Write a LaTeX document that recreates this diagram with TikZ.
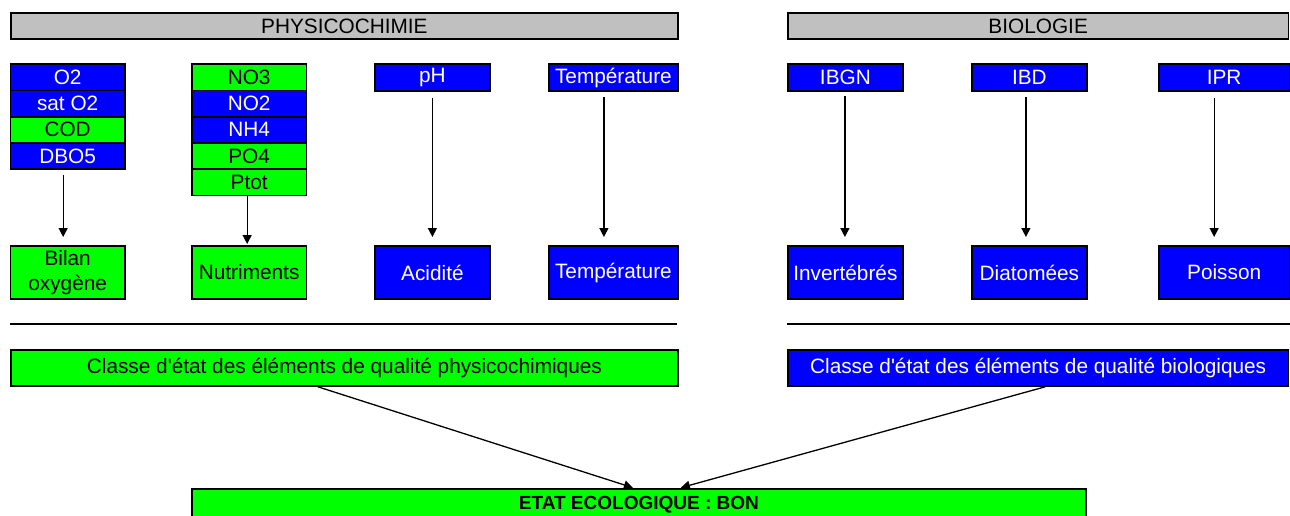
\documentclass[tikz,border=0pt]{standalone}
\usepackage{fontspec}
\setmainfont{Liberation Sans}[Ligatures=TeXOff]
\usetikzlibrary{arrows.meta}
\definecolor{bblue}{HTML}{0000FF}
\definecolor{bgreen}{HTML}{00FF00}
\definecolor{hgrey}{HTML}{C0C0C0}
\newcommand{\fsz}{\fontsize{20.8}{24.5}\selectfont}
\tikzset{
  box/.style={draw, line width=1.8pt, inner sep=0pt, anchor=north west, align=center, font=\fsz},
  bl/.style={box, fill=bblue, text=white},
  gr/.style={box, fill=bgreen, text=black},
  hdr/.style={box, fill=hgrey, text=black},
  arr/.style={-{Triangle[length=9pt,width=9pt]}, line width=1.3pt},
  sep/.style={line width=1.8pt}
}
\begin{document}
\begin{tikzpicture}[x=1pt,y=-1pt]
\useasboundingbox (0,0) rectangle (1290,516);
\clip (0,0) rectangle (1290,516);
% headers
\node[hdr, minimum width=667pt, minimum height=26.3pt] (physh) at (10,12) {PHYSICOCHIMIE};
\node[hdr, minimum width=500.5pt, minimum height=26.3pt] (bioh) at (787,12) {BIOLOGIE};
% O2 stack
\node[bl, minimum width=114.5pt, minimum height=26.25pt] (o2) at (9.5,63.3) {O2};
\node[bl, minimum width=114.5pt, minimum height=26.25pt] (sato2) at (9.5,89.55) {sat O2};
\node[gr, minimum width=114.5pt, minimum height=26.25pt] (cod) at (9.5,115.8) {COD};
\node[bl, minimum width=114.5pt, minimum height=26.25pt] (dbo) at (9.5,142.05) {DBO5};
% N/P stack
\node[gr, minimum width=114.5pt, minimum height=26.25pt] (no3) at (191,63.3) {NO3};
\node[bl, minimum width=114.5pt, minimum height=26.25pt] (no2) at (191,89.55) {NO2};
\node[bl, minimum width=114.5pt, minimum height=26.25pt] (nh4) at (191,115.8) {NH4};
\node[gr, minimum width=114.5pt, minimum height=26.25pt] (po4) at (191,142.05) {PO4};
\node[gr, minimum width=114.5pt, minimum height=26.25pt] (ptot) at (191,168.3) {Ptot};
% single parameter boxes
\node[bl, minimum width=115pt, minimum height=27pt] (ph) at (374,63.3) {pH};
\node[bl, minimum width=129pt, minimum height=27pt] (tin) at (548,63.3) {Température};
\node[bl, minimum width=115pt, minimum height=27pt] (ibgn) at (787,63.3) {IBGN};
\node[bl, minimum width=115pt, minimum height=27pt] (ibd) at (971,63.3) {IBD};
\node[bl, minimum width=130.5pt, minimum height=27pt] (ipr) at (1158,63.3) {IPR};
% element boxes
\node[gr, minimum width=114.5pt, minimum height=53.3pt] (bilan) at (9.5,245) {Bilan\\oxygène};
\node[gr, minimum width=114.5pt, minimum height=53.3pt] (nutr) at (191,245) {Nutriments};
\node[bl, minimum width=115pt, minimum height=53.3pt] (acid) at (374,245) {Acidité};
\node[bl, minimum width=129pt, minimum height=53.3pt] (tout) at (548,245) {Température};
\node[bl, minimum width=115pt, minimum height=53.3pt] (inv) at (787,245) {Invertébrés};
\node[bl, minimum width=115pt, minimum height=53.3pt] (diat) at (971,245) {Diatomées};
\node[bl, minimum width=130.5pt, minimum height=53.3pt] (pois) at (1158,245) {Poisson};
% separator lines
\coordinate (l1a) at (10,324); \coordinate (l1b) at (677,324);
\coordinate (l2a) at (787,324); \coordinate (l2b) at (1290,324);
\draw[sep] (l1a) -- (l1b);
\draw[sep] (l2a) -- (l2b);
% class boxes
\node[gr, minimum width=667pt, minimum height=36pt] (cphys) at (10,349) {Classe d'état des éléments de qualité physicochimiques};
\node[bl, minimum width=500.5pt, minimum height=36pt] (cbio) at (787,349) {Classe d'état des éléments de qualité biologiques};
% final
\node[gr, minimum width=894pt, minimum height=33pt, font=\fontsize{19}{22}\selectfont\bfseries] (etat) at (191,487.7) {ETAT ECOLOGIQUE : BON};
% arrows
\draw[arr] ([xshift=-4.5pt,yshift=-5pt]dbo.south) -- ([xshift=-4.5pt,yshift=8pt]bilan.north);
\draw[arr] ([xshift=-2pt]ptot.south) -- ([xshift=-2pt,yshift=1pt]nutr.north);
\draw[arr] ([yshift=-6pt]ph.south) -- ([yshift=8pt]acid.north);
\draw[arr] ([xshift=-9.5pt,yshift=-5pt]tin.south) -- ([xshift=-9.5pt,yshift=8pt]tout.north);
\draw[arr] ([xshift=-0.5pt,yshift=-4pt]ibgn.south) -- ([xshift=-0.5pt,yshift=8pt]inv.north);
\draw[arr] ([xshift=-3.5pt,yshift=-5pt]ibd.south) -- ([xshift=-3.5pt,yshift=8pt]diat.north);
\draw[arr] ([xshift=-10pt,yshift=-6pt]ipr.south) -- ([xshift=-10pt,yshift=8pt]pois.north);
\draw[arr] ([xshift=-26.5pt]cphys.south) -- ([xshift=-6pt]etat.north);
\draw[arr] ([xshift=7pt]cbio.south) -- ([xshift=42pt]etat.north);
\end{tikzpicture}
\end{document}
